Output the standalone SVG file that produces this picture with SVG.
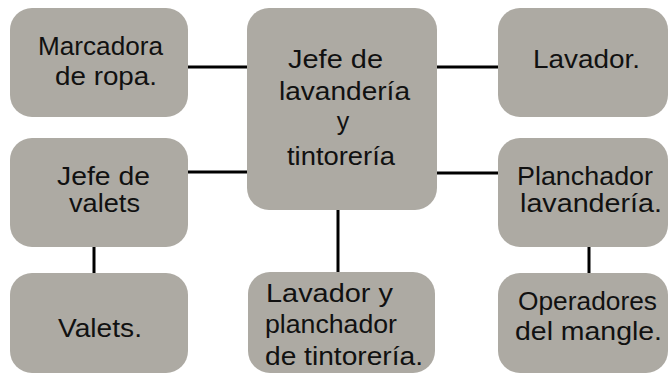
<svg xmlns="http://www.w3.org/2000/svg" width="668" height="374" viewBox="0 0 668 374">
<style>
.box{fill:#adaaa3;}
.t{font-family:"Liberation Sans",Arial,sans-serif;font-size:25px;fill:#111;}
.c{stroke:#000;stroke-width:3;fill:none;}
</style>
<rect width="668" height="374" fill="#fff"/>
<g id="connectors">
<line class="c" x1="188" y1="67" x2="247" y2="67"/>
<line class="c" x1="437" y1="67" x2="498" y2="67"/>
<line class="c" x1="188" y1="172" x2="247" y2="172"/>
<line class="c" x1="437" y1="173" x2="498" y2="173"/>
<line class="c" x1="94" y1="247" x2="94" y2="273"/>
<line class="c" x1="338" y1="210" x2="338" y2="272"/>
<line class="c" x1="589" y1="247" x2="589" y2="273"/>
</g>
<g id="marcadora">
<rect class="box" x="10" y="8" width="178" height="109" rx="22"/>
<text class="t" x="38" y="55" textLength="125" lengthAdjust="spacingAndGlyphs">Marcadora</text>
<text class="t" x="55" y="85" textLength="102" lengthAdjust="spacingAndGlyphs">de ropa.</text>
</g>
<g id="jefe-lavanderia">
<rect class="box" x="247" y="8" width="190" height="202" rx="22"/>
<text class="t" x="288" y="68" textLength="95" lengthAdjust="spacingAndGlyphs">Jefe de</text>
<text class="t" x="279" y="100" textLength="131" lengthAdjust="spacingAndGlyphs">lavandería</text>
<text class="t" x="343" y="130" text-anchor="middle">y</text>
<text class="t" x="287" y="165" textLength="108" lengthAdjust="spacingAndGlyphs">tintorería</text>
</g>
<g id="lavador">
<rect class="box" x="498" y="8" width="170" height="109" rx="22"/>
<text class="t" x="533" y="68" textLength="107" lengthAdjust="spacingAndGlyphs">Lavador.</text>
</g>
<g id="jefe-valets">
<rect class="box" x="10" y="138" width="178" height="109" rx="22"/>
<text class="t" x="57" y="185" textLength="93" lengthAdjust="spacingAndGlyphs">Jefe de</text>
<text class="t" x="69" y="212" textLength="71" lengthAdjust="spacingAndGlyphs">valets</text>
</g>
<g id="planchador">
<rect class="box" x="498" y="138" width="170" height="109" rx="22"/>
<text class="t" x="517" y="185" textLength="136" lengthAdjust="spacingAndGlyphs">Planchador</text>
<text class="t" x="520" y="212" textLength="142" lengthAdjust="spacingAndGlyphs">lavandería.</text>
</g>
<g id="valets">
<rect class="box" x="10" y="273" width="178" height="100" rx="22"/>
<text class="t" x="58" y="337" textLength="84" lengthAdjust="spacingAndGlyphs">Valets.</text>
</g>
<g id="lavador-planchador">
<rect class="box" x="248" y="272" width="187" height="101" rx="22"/>
<text class="t" x="266" y="302" textLength="127" lengthAdjust="spacingAndGlyphs">Lavador y</text>
<text class="t" x="265" y="333" textLength="132" lengthAdjust="spacingAndGlyphs">planchador</text>
<text class="t" x="265" y="365" textLength="158" lengthAdjust="spacingAndGlyphs">de tintorería.</text>
</g>
<g id="operadores">
<rect class="box" x="498" y="273" width="170" height="100" rx="22"/>
<text class="t" x="518" y="310" textLength="139" lengthAdjust="spacingAndGlyphs">Operadores</text>
<text class="t" x="515" y="340" textLength="147" lengthAdjust="spacingAndGlyphs">del mangle.</text>
</g>
</svg>
